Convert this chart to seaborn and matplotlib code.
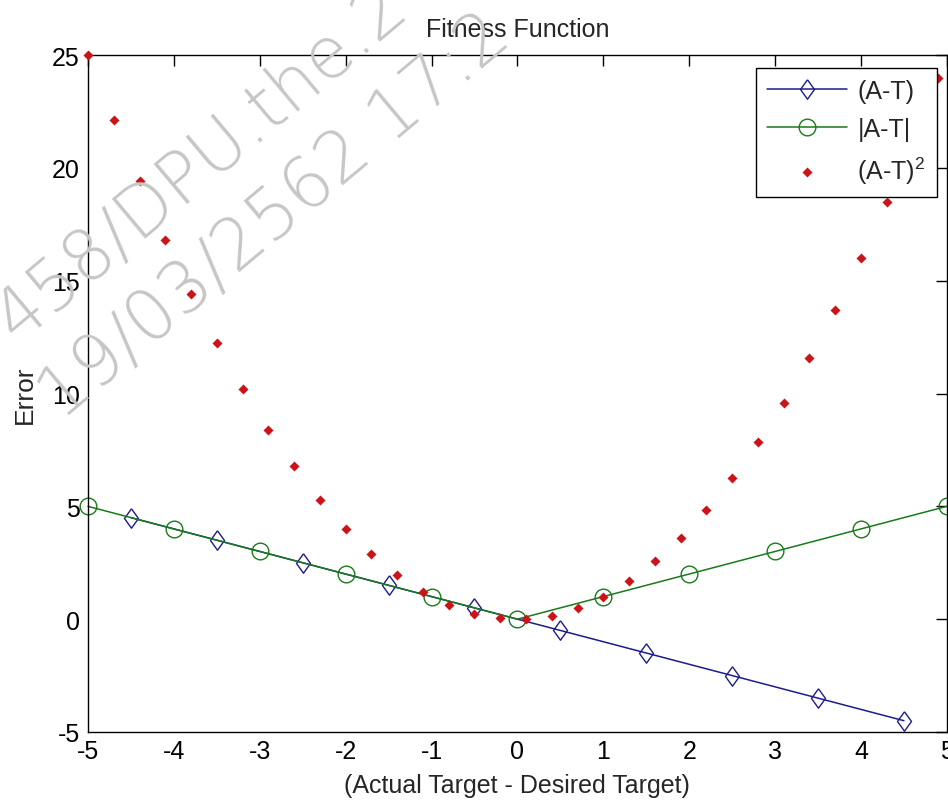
import matplotlib
matplotlib.use('Agg')
import matplotlib.pyplot as plt
import seaborn as sns

# (A-T) series, diamonds at the half steps
diff_x = [-4.5, -3.5, -2.5, -1.5, -0.5, 0.5, 1.5, 2.5, 3.5, 4.5]
diff_y = [4.5, 3.5, 2.5, 1.5, 0.5, -0.5, -1.5, -2.5, -3.5, -4.5]

# |A-T| series, circles at whole steps
abs_x = [-5, -4, -3, -2, -1, 0, 1, 2, 3, 4, 5]
abs_y = [5, 4, 3, 2, 1, 0, 1, 2, 3, 4, 5]

# (A-T)^2 series, red dots
sq_x = [-5.0, -4.7, -4.4, -4.1, -3.8, -3.5, -3.2, -2.9, -2.6, -2.3, -2.0, -1.7,
        -1.4, -1.1, -0.8, -0.5, -0.2, 0.1, 0.4, 0.7, 1.0, 1.3, 1.6, 1.9, 2.2,
        2.5, 2.8, 3.1, 3.4, 3.7, 4.0, 4.3, 4.6, 4.9]
sq_y = [25.0, 22.1, 19.4, 16.8, 14.4, 12.25, 10.2, 8.4, 6.8, 5.3, 4.0, 2.9,
        1.96, 1.2, 0.64, 0.25, 0.04, 0.01, 0.16, 0.49, 1.0, 1.7, 2.56, 3.6, 4.84,
        6.25, 7.84, 9.6, 11.56, 13.7, 16.0, 18.5, 21.2, 24.0]

x_ticks = [-5, -4, -3, -2, -1, 0, 1, 2, 3, 4, 5]
y_ticks = [-5, 0, 5, 10, 15, 20, 25]

sns.set_style('white')
plt.rcParams['font.family'] = ['Liberation Sans', 'DejaVu Sans']
plt.rcParams['axes.unicode_minus'] = False
plt.rcParams['mathtext.fontset'] = 'custom'
plt.rcParams['mathtext.rm'] = 'Liberation Sans'
plt.rcParams['mathtext.it'] = 'Liberation Sans'
plt.rcParams['mathtext.default'] = 'rm'

# matlab style diamond, a bit wider than matplotlib's thin one
diamond = [(0, 1), (0.72, 0), (0, -1), (-0.72, 0), (0, 1)]

fig = plt.figure(figsize=(9.48, 8.03), dpi=100)
ax = fig.add_axes([0.0928, 0.0872, 0.906, 0.843])

sns.lineplot(x=diff_x, y=diff_y, ax=ax, color='#1c1c8c', linewidth=1.1,
             marker=diamond, markersize=14, markerfacecolor='none',
             markeredgecolor='#1c1c8c', markeredgewidth=1.0, label='(A-T)',
             sort=False, clip_on=False)
sns.lineplot(x=abs_x, y=abs_y, ax=ax, color='#1a7a1a', linewidth=1.1,
             marker='o', markersize=12, markerfacecolor='none',
             markeredgecolor='#1a7a1a', markeredgewidth=1.0, label='|A-T|',
             sort=False, clip_on=False)
sns.scatterplot(x=sq_x, y=sq_y, ax=ax, color='#cc1418', marker='D', s=26,
                linewidth=0, label='(A-T)$^2$', clip_on=False, zorder=3)

ax.set_xlim(-5, 5)
ax.set_ylim(-5, 25)
ax.set_xticks(x_ticks)
ax.set_yticks(y_ticks)
ax.tick_params(direction='in', length=8, width=1, top=True, right=True,
               labelsize=18, colors='black')
ax.tick_params(axis='y', pad=6)
ax.tick_params(axis='x', pad=5)
for s in ax.spines.values():
    s.set_visible(True)
    s.set_color('black')
    s.set_linewidth(1.0)

ax.set_title('Fitness Function', fontsize=18, pad=14)
ax.set_xlabel('(Actual Target - Desired Target)', fontsize=18, labelpad=7)
ax.set_ylabel('Error', fontsize=19, labelpad=11)

leg = ax.legend(loc='upper right', bbox_to_anchor=(0.988, 0.981),
                borderaxespad=0, fontsize=18, frameon=True, fancybox=False,
                framealpha=1, edgecolor='black', handlelength=3.2,
                labelspacing=0.55, borderpad=0.45, handletextpad=0.4)
leg.get_frame().set_linewidth(1.0)

# watermark across the upper left
fig.text(0.213, 0.797, '458/DPU.the.2', rotation=40, color='#c6c6c6',
         fontsize=51, family='DejaVu Sans', fontweight='light',
         ha='center', va='center', rotation_mode='anchor', zorder=10)
fig.text(0.290, 0.729, '19/03/2562 17:2', rotation=40, color='#c6c6c6',
         fontsize=51, family='DejaVu Sans', fontweight='light',
         ha='center', va='center', rotation_mode='anchor', zorder=10)

fig.savefig('out.png', dpi=100)
